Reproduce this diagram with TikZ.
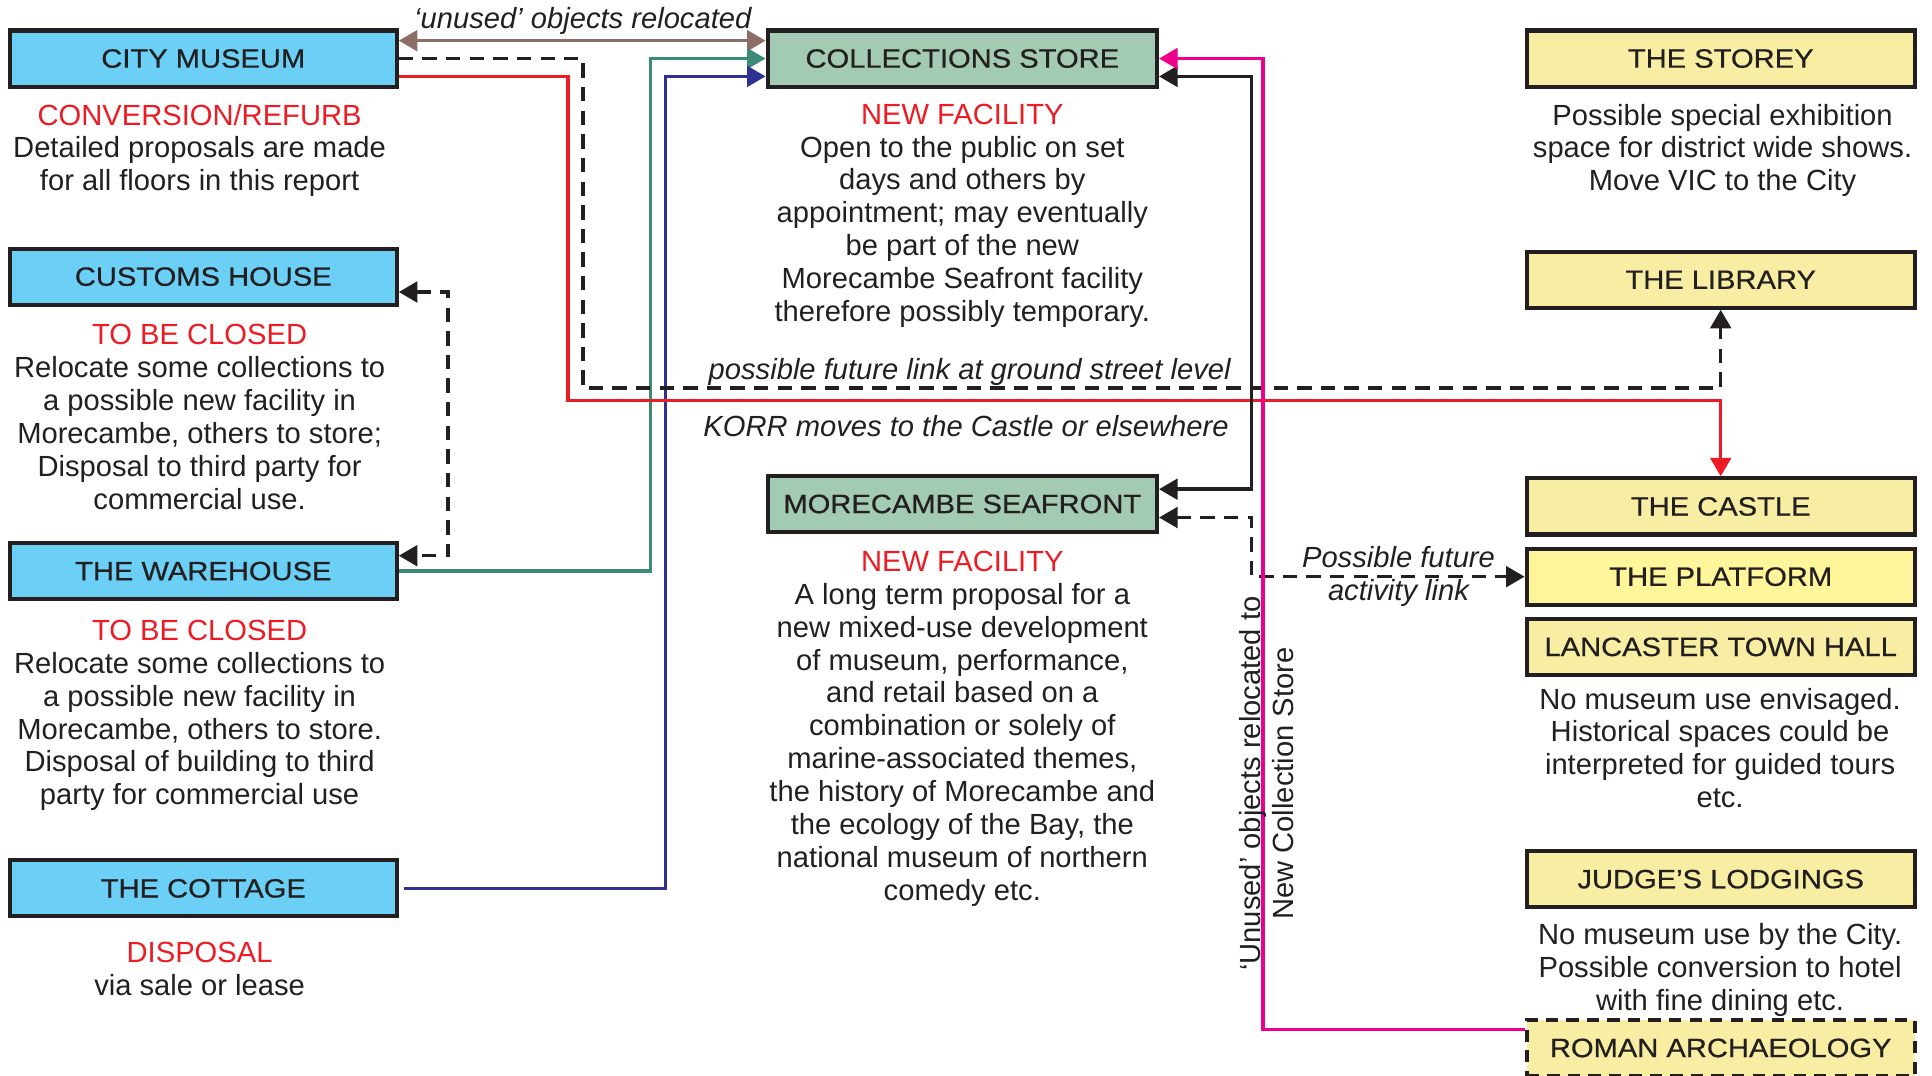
\documentclass[tikz,border=0pt]{standalone}
\usepackage{fontspec}
\setmainfont{Liberation Sans}
\newfontfamily\titlefont[FakeStretch=1.1,FakeBold=0.6]{Liberation Sans}
\usetikzlibrary{arrows.meta}
\definecolor{bluefill}{HTML}{6BCFF6}
\definecolor{greenfill}{HTML}{A3CAB2}
\definecolor{yelfill}{HTML}{F7EEA3}
\definecolor{platfill}{HTML}{FFF59B}
\definecolor{boxline}{HTML}{231F20}
\definecolor{txt}{HTML}{231F20}
\definecolor{redc}{HTML}{ED1C24}
\definecolor{brownc}{HTML}{8C6E66}
\definecolor{tealc}{HTML}{3B8B78}
\definecolor{navyc}{HTML}{2E3192}
\definecolor{magc}{HTML}{EC008C}
\newcommand\bodysize{\fontsize{14.2pt}{16pt}\selectfont}
\begin{document}
\begin{tikzpicture}[x=0.6pt,y=-0.6pt,
  >={Triangle[length=9pt,width=10pt]},
  box/.style={draw=boxline, line width=2pt, minimum height=27.3pt, inner sep=0pt,
    font=\titlefont\fontsize{12.9pt}{14pt}\selectfont, text=txt},
  bluebox/.style={box, fill=bluefill, minimum width=188.4pt},
  greenbox/.style={box, fill=greenfill, minimum width=189.6pt},
  yelbox/.style={box, fill=yelfill, minimum width=189pt},
  body/.style={font=\bodysize, align=center, inner sep=0pt, anchor=north, text=txt},
  lab/.style={font=\bodysize\itshape, inner sep=0pt, text=txt},
  conn/.style={line width=1.7pt},
  dashline/.style={draw=boxline, dash pattern=on 7pt off 4.5pt}]
\useasboundingbox (0,0) rectangle (1568,873);

% boxes
\node[bluebox] (cm) at (165,47.5) {CITY MUSEUM};
\node[bluebox] (ch) at (165,224.5) {CUSTOMS HOUSE};
\node[bluebox] (wh) at (165,463.5) {THE WAREHOUSE};
\node[bluebox] (cot) at (165,721) {THE COTTAGE};
\node[greenbox] (cs) at (781,47.5) {COLLECTIONS STORE};
\node[greenbox] (ms) at (781,409) {MORECAMBE SEAFRONT};
\node[yelbox] (st) at (1396.5,47.5) {THE STOREY};
\node[yelbox] (lib) at (1396.5,227) {THE LIBRARY};
\node[yelbox] (cas) at (1396.5,411) {THE CASTLE};
\node[yelbox, fill=platfill] (plat) at (1396.5,468) {THE PLATFORM};
\node[yelbox] (lth) at (1396.5,525) {LANCASTER TOWN HALL};
\node[yelbox] (jl) at (1396.5,713.5) {JUDGE’S LODGINGS};
\node[yelbox, dash pattern=on 6pt off 4pt] (ra) at (1396.5,850.5) {ROMAN ARCHAEOLOGY};

% descriptions
\node[body] (cmt) at (162,84) {\textcolor{redc}{CONVERSION/REFURB}\\Detailed proposals are made\\for all floors in this report};
\node[body] (cht) at (162,263) {\textcolor{redc}{TO BE CLOSED}\\Relocate some collections to\\a possible new facility in\\Morecambe, others to store;\\Disposal to third party for\\commercial use.};
\node[body] (wht) at (162,503) {\textcolor{redc}{TO BE CLOSED}\\Relocate some collections to\\a possible new facility in\\Morecambe, others to store.\\Disposal of building to third\\party for commercial use};
\node[body] (cott) at (162,764) {\textcolor{redc}{DISPOSAL}\\via sale or lease};
\node[body] (cst) at (781,84) {\textcolor{redc}{NEW FACILITY}\\Open to the public on set\\days and others by\\appointment; may eventually\\be part of the new\\Morecambe Seafront facility\\therefore possibly temporary.};
\node[body] (mst) at (781,447) {\textcolor{redc}{NEW FACILITY}\\A long term proposal for a\\new mixed-use development\\of museum, performance,\\and retail based on a\\combination  or solely of\\marine-associated themes,\\the history of Morecambe and\\the ecology of the Bay, the\\national museum of northern\\comedy etc.};
\node[body] (stt) at (1398,84) {Possible special exhibition\\space for district wide shows.\\Move VIC to the City};
\node[body] (ltht) at (1396,558) {No museum use envisaged.\\Historical spaces could be\\interpreted for guided tours\\etc.};
\node[body] (jlt) at (1396,749) {No museum use by the City.\\Possible conversion to hotel\\with fine dining etc.};

% connectors
\coordinate (d1) at (473,315);
\coordinate (r1) at (461,325);
\coordinate (t1) at (528,0);
\coordinate (n1) at (540,0);
\coordinate (m1) at (1025,0);
\coordinate (csw3) at ([yshift=-8.7pt]cs.west);

\draw[conn, brownc, <->] ([yshift=8.7pt]cm.east) -- ([yshift=8.7pt]cs.west);
\draw[conn, tealc, ->] (wh.east) -| (t1 |- cs.west) -- (cs.west);
\draw[conn, navyc, ->] ([xshift=2.4pt]cot.east) -| (n1 |- csw3) -- (csw3);
\draw[conn, dashline, ->] (cm.east) -| (d1) -| (lib.south);
\draw[conn, redc, ->] ([yshift=-8.7pt]cm.east) -| (r1) -| (cas.north);
\draw[conn, dashline, <->] ([yshift=-7.5pt]ch.east) -- ++(40,0) |- ([yshift=7.5pt]wh.east);
\draw[conn, boxline, <->] ([yshift=-8.7pt]cs.east) -- ++(75,0) |- ([yshift=7.2pt]ms.east);
\draw[conn, dashline, <->] ([yshift=-6.6pt]ms.east) -- ++(75,0) |- (plat.west);
\draw[conn, magc, ->] ([yshift=9pt]ra.west) -| (m1 |- cs.east) -- (cs.east);

% labels
\node[lab] (l1) at (473,17) {‘unused’ objects relocated};
\node[lab] (l2) at (787,302) {possible future link at ground street level};
\node[lab] (l3) at (784,346) {KORR moves to the Castle or elsewhere};
\node[lab, align=center] (l4) at (1135,468) {Possible future\\activity link};
\node[body, anchor=center, rotate=90] (vt) at (1028,636) {‘Unused’ objects relocated to\\New Collection Store};
\end{tikzpicture}
\end{document}
